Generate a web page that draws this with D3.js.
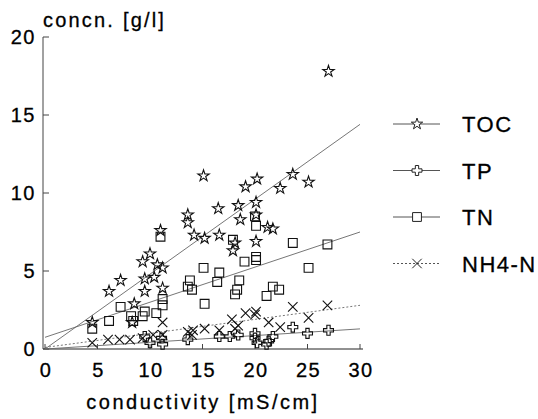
<html>
<head>
<meta charset="utf-8">
<style>
    body { margin: 0; background: #fff; }
    text { font-family: "Liberation Sans", Arial, sans-serif; fill: #000; stroke: #000; stroke-width: 0.3px; }
</style>
<script src="https://cdn.jsdelivr.net/npm/d3@7"></script>
</head>
<body>
<script>
    // measured points [conductivity, concentration]
    var tocData = [[4.5,1.7],[6.1,3.7],[7.2,4.4],[8.3,1.7],[8.5,2.9],[9.3,5.6],[9.5,4.5],[9.5,3.7],
        [10.0,6.1],[10.4,4.6],[10.7,5.4],[11.0,7.6],[11.2,5.2],[11.2,3.9],[13.6,8.6],[13.6,8.1],
        [14.2,7.3],[15.1,11.1],[15.2,7.1],[16.5,9.0],[16.6,7.3],[18.1,6.8],[17.9,6.3],[18.4,9.2],
        [18.6,8.3],[19.1,10.4],[20.1,9.4],[20.1,8.6],[20.1,6.9],[20.2,10.9],[21.2,7.8],[21.7,7.7],
        [22.4,10.3],[23.6,11.2],[25.1,10.7],[27.0,17.8]];
    var tpData = [[9.5,0.8],[10.0,0.4],[11.1,0.7],[11.2,0.3],[13.6,0.6],[16.6,0.8],[17.6,0.8],
        [18.4,0.9],[20.0,1.0],[20.0,0.7],[20.2,0.4],[21.1,0.3],[21.3,0.5],[21.7,0.8],[23.6,1.4],
        [25.0,1.0],[27.0,1.2]];
    var tnData = [[4.5,1.3],[6.1,1.8],[7.2,2.7],[8.2,2.1],[8.4,1.8],[9.3,2.1],[9.5,2.4],[10.6,2.3],
        [11.0,7.2],[11.2,3.2],[11.2,2.8],[13.6,4.0],[13.8,4.4],[14.0,3.8],[15.1,5.2],[15.2,2.9],
        [16.4,4.3],[16.6,4.9],[17.9,7.0],[18.1,3.5],[18.3,3.8],[18.5,4.4],[19.0,5.6],[20.1,7.9],
        [20.1,5.9],[20.1,5.7],[20.0,8.5],[21.1,3.4],[21.7,4.0],[22.3,3.8],[23.6,6.8],[25.1,5.2],
        [26.9,6.7]];
    var nh4Data = [[4.5,0.4],[6.0,0.6],[7.1,0.6],[8.1,0.6],[9.3,0.7],[10.3,0.9],[11.2,0.9],[11.2,1.7],
        [13.6,1.1],[14.0,0.9],[14.1,1.2],[15.2,1.3],[16.6,1.2],[17.8,1.9],[18.1,1.3],[18.4,1.5],
        [19.1,2.3],[20.1,2.4],[20.0,2.2],[21.3,1.7],[22.4,1.4],[23.6,2.7],[25.1,2.0],[26.9,2.8]];

    // fitted lines [intercept, slope]
    var tocFit = [0.0, 0.48];
    var tpFit = [0.0, 0.043];
    var tnFit = [0.75, 0.225];
    var nh4Fit = [0.1, 0.09];

    var seriesNames = ["TOC", "TP", "TN", "NH4-N"];
    var xTicks = [0, 5, 10, 15, 20, 25, 30];
    var yTicks = [0, 5, 10, 15, 20];

    var series = [
        {name: "TOC", data: tocData, fit: tocFit, symbol: d3.symbolStar, size: 40, dash: null},
        {name: "TP", data: tpData, fit: tpFit, symbol: d3.symbolCross, size: 55, dash: null},
        {name: "TN", data: tnData, fit: tnFit, symbol: d3.symbolSquare, size: 78, dash: null},
        {name: "NH4-N", data: nh4Data, fit: nh4Fit, symbol: d3.symbolX, size: 60, dash: "2,2"}
    ];

    var width = 538, height = 419;
    var svg = d3.select("body").append("svg")
        .attr("width", width)
        .attr("height", height);

    var x = d3.scaleLinear().domain([0, 30]).range([45, 360]);
    var y = d3.scaleLinear().domain([0, 20]).range([349, 37]);

    // axes
    svg.append("line")
        .attr("x1", 43).attr("x2", 43)
        .attr("y1", y(20)).attr("y2", y(0))
        .attr("stroke", "#444").attr("stroke-width", 1);
    svg.append("line")
        .attr("x1", 43).attr("x2", x(30) + 3)
        .attr("y1", y(0)).attr("y2", y(0))
        .attr("stroke", "#222").attr("stroke-width", 1);

    svg.selectAll(".ytick").data(yTicks).enter().append("line")
        .attr("x1", 43).attr("x2", 49)
        .attr("y1", function (d) { return y(d); })
        .attr("y2", function (d) { return y(d); })
        .attr("stroke", "#444");
    svg.selectAll(".xtick").data(xTicks).enter().append("line")
        .attr("x1", function (d) { return x(d); })
        .attr("x2", function (d) { return x(d); })
        .attr("y1", y(0)).attr("y2", y(0) - 5)
        .attr("stroke", "#444");

    svg.selectAll(".ylab").data(yTicks).enter().append("text")
        .attr("x", 36)
        .attr("y", function (d) { return y(d) + 7; })
        .attr("text-anchor", "end")
        .attr("font-size", "20px")
        .attr("letter-spacing", "1.5px")
        .text(function (d) { return d; });
    svg.selectAll(".xlab").data(xTicks).enter().append("text")
        .attr("x", function (d) { return x(d) + 1; })
        .attr("y", 377)
        .attr("text-anchor", "middle")
        .attr("font-size", "20px")
        .attr("letter-spacing", "1.5px")
        .text(function (d) { return d; });

    svg.append("text")
        .attr("x", 203).attr("y", 409)
        .attr("text-anchor", "middle")
        .attr("font-size", "20px")
        .attr("letter-spacing", "2.5px")
        .text("conductivity [mS/cm]");
    svg.append("text")
        .attr("x", 43).attr("y", 27)
        .attr("font-size", "20px")
        .attr("letter-spacing", "2.2px")
        .text("concn. [g/l]");

    // fitted lines
    series.forEach(function (s) {
        svg.append("line")
            .attr("x1", x(0)).attr("y1", y(s.fit[0]))
            .attr("x2", x(30)).attr("y2", y(s.fit[0] + s.fit[1] * 30))
            .attr("stroke", "#666")
            .attr("stroke-width", 0.9)
            .attr("stroke-dasharray", s.dash);
    });

    // markers
    series.forEach(function (s) {
        var sym = d3.symbol().type(s.symbol).size(s.size);
        svg.append("g").selectAll("path")
            .data(s.data)
            .enter().append("path")
            .attr("d", sym)
            .attr("transform", function (d) {
                return "translate(" + x(d[0]) + "," + y(d[1]) + ")";
            })
            .attr("fill", "none")
            .attr("stroke", "#111")
            .attr("stroke-width", 1.1);
    });

    // legend
    var legend = svg.append("g").selectAll("g")
        .data(series)
        .enter().append("g")
        .attr("transform", function (d, i) {
            return "translate(393," + (124 + i * 46.5) + ")";
        });
    legend.append("line")
        .attr("x1", 0).attr("x2", 47)
        .attr("stroke", "#555")
        .attr("stroke-width", 1)
        .attr("stroke-dasharray", function (d) { return d.dash; });
    legend.append("path")
        .attr("d", function (d) { return d3.symbol().type(d.symbol).size(d.size)(); })
        .attr("transform", "translate(24,0)")
        .attr("fill", "#fff")
        .attr("stroke", "#222");
    legend.append("text")
        .attr("x", 69).attr("y", 8)
        .attr("font-size", "22px")
        .attr("letter-spacing", "1.5px")
        .text(function (d, i) { return seriesNames[i]; });
</script>
</body>
</html>
